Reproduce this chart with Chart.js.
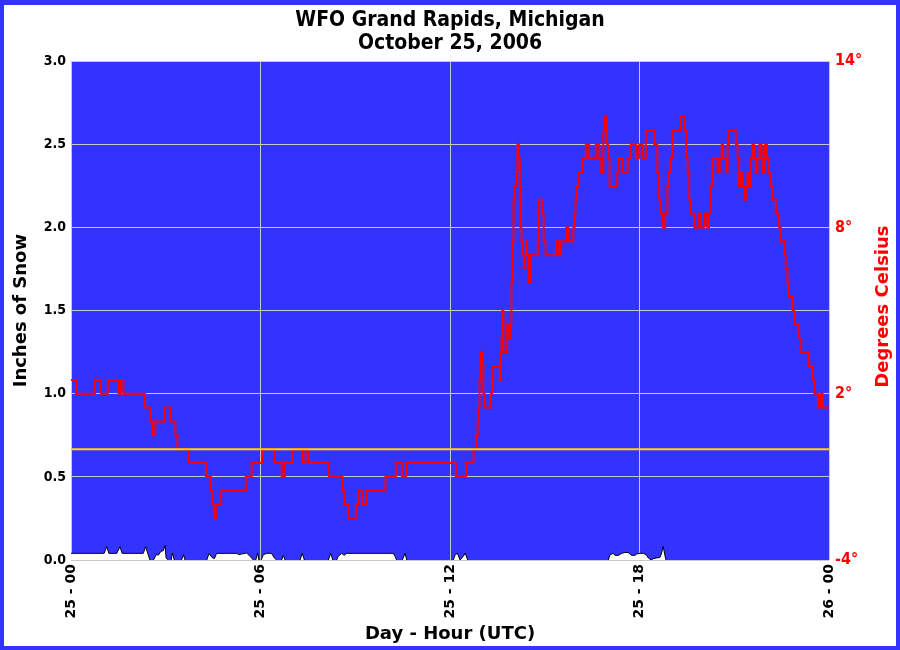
<!DOCTYPE html>
<html>
<head>
<meta charset="utf-8">
<script src="https://cdn.jsdelivr.net/npm/chart.js@4.4.0/dist/chart.umd.min.js"></script>
<style>
  html, body { margin: 0; padding: 0; background: #fff; }
  #frame {
    width: 900px; height: 650px; box-sizing: border-box;
    border: 4px solid #3333ff; border-top-width: 5px;
    background: #fff;
  }
  canvas { display: block; }
</style>
</head>
<body>
<div id="frame"><canvas id="snowChart" width="892" height="641"></canvas></div>
<script>
// x tick labels (day - hour UTC), one every 6 hours
const xTickLabels = ['25 - 00', '25 - 06', '25 - 12', '25 - 18', '26 - 00'];

// temperature readings: [hours since 25/00Z, degrees C]
const tempObs = [
  [0.00,2.5],[0.13,2.5],[0.19,2.0],[0.70,2.0],[0.81,2.5],[0.92,2.5],[0.97,2.0],[1.36,2.5],[1.46,2.5],[1.55,2.0],
  [1.61,2.5],[1.71,2.0],[2.28,2.0],[2.41,1.5],[2.50,1.5],[2.56,1.0],[2.63,0.5],[2.71,1.0],[2.92,1.0],[3.01,1.5],
  [3.13,1.5],[3.19,1.0],[3.26,1.0],[3.35,0.5],[3.39,0.0],[3.70,0.0],[3.77,-0.5],[4.24,-0.5],[4.30,-1.0],[4.40,-1.0],
  [4.46,-1.5],[4.50,-2.0],[4.56,-2.5],[4.61,-2.0],[4.72,-2.0],[4.79,-1.5],[5.51,-1.5],[5.56,-1.0],[5.67,-1.0],[5.77,-0.5],
  [5.98,-0.5],[6.11,0.0],[6.40,0.0],[6.46,-0.5],[6.62,-0.5],[6.72,-1.0],[6.83,-0.5],[6.99,-0.5],[7.04,0.0],[7.30,0.0],
  [7.39,-0.5],[7.46,0.0],[7.57,-0.5],[8.14,-0.5],[8.20,-1.0],[8.57,-1.0],[8.62,-1.5],[8.68,-2.0],[8.74,-2.0],[8.83,-2.5],
  [8.99,-2.5],[9.05,-2.0],[9.13,-1.5],[9.18,-1.5],[9.24,-2.0],[9.31,-2.0],[9.38,-1.5],[9.94,-1.5],[9.97,-1.0],[10.26,-1.0],
  [10.31,-0.5],[10.45,-0.5],[10.50,-1.0],[10.58,-1.0],[10.65,-0.5],[12.16,-0.5],[12.21,-1.0],[12.48,-1.0],[12.53,-0.5],[12.70,-0.5],
  [12.79,0.0],[12.85,0.5],[12.90,1.0],[12.92,1.5],[12.95,2.5],[13.00,3.5],[13.03,3.0],[13.08,2.0],[13.11,1.5],[13.27,1.5],
  [13.32,2.0],[13.35,2.5],[13.38,3.0],[13.55,3.0],[13.61,2.5],[13.62,3.5],[13.64,4.0],[13.67,5.0],[13.71,3.5],[13.77,3.5],
  [13.85,4.5],[13.90,4.0],[13.93,4.5],[13.96,6.0],[13.99,7.5],[14.03,9.0],[14.07,9.5],[14.11,10.0],[14.16,11.0],[14.20,10.5],
  [14.22,9.5],[14.25,8.0],[14.28,7.5],[14.32,7.0],[14.36,6.5],[14.40,7.0],[14.43,7.5],[14.46,7.0],[14.51,6.0],[14.56,7.0],
  [14.76,7.0],[14.80,7.5],[14.83,9.0],[14.88,9.0],[14.94,8.5],[14.99,7.5],[15.06,7.0],[15.33,7.0],[15.38,7.5],[15.43,7.5],
  [15.48,7.0],[15.56,7.5],[15.64,7.5],[15.71,8.0],[15.80,7.5],[15.88,7.5],[15.93,8.0],[15.96,8.5],[15.99,9.0],[16.03,9.5],
  [16.12,10.0],[16.17,10.0],[16.22,10.5],[16.27,10.5],[16.33,11.0],[16.38,11.0],[16.43,10.5],[16.59,10.5],[16.64,11.0],[16.70,11.0],
  [16.75,10.5],[16.83,10.0],[16.88,11.5],[16.93,12.0],[16.96,11.5],[16.99,11.0],[17.03,10.5],[17.07,9.5],[17.28,9.5],[17.31,10.0],
  [17.33,10.5],[17.44,10.5],[17.49,10.0],[17.60,10.0],[17.65,10.5],[17.70,10.5],[17.75,11.0],[17.86,11.0],[17.91,10.5],[17.96,10.5],
  [18.02,11.0],[18.08,11.0],[18.12,10.5],[18.17,10.5],[18.23,11.5],[18.44,11.5],[18.49,11.0],[18.54,11.0],[18.59,10.0],[18.65,9.0],
  [18.70,8.5],[18.77,8.0],[18.86,8.5],[18.91,9.5],[18.96,10.0],[19.02,10.5],[19.07,11.5],[19.26,11.5],[19.31,12.0],[19.42,12.0],
  [19.46,11.5],[19.50,10.5],[19.55,10.0],[19.60,9.0],[19.65,8.5],[19.70,8.5],[19.76,8.0],[19.86,8.0],[19.92,8.5],[19.97,8.0],
  [20.02,8.0],[20.07,8.5],[20.12,8.5],[20.17,8.0],[20.22,8.5],[20.28,9.5],[20.33,10.5],[20.44,10.5],[20.51,10.0],[20.57,10.5],
  [20.63,11.0],[20.67,10.5],[20.73,10.5],[20.77,10.0],[20.81,11.0],[20.86,11.5],[21.02,11.5],[21.08,11.0],[21.13,10.5],[21.18,9.5],
  [21.24,10.0],[21.29,9.5],[21.34,9.0],[21.39,9.5],[21.44,10.0],[21.50,9.5],[21.55,10.5],[21.60,11.0],[21.65,10.5],[21.71,10.0],
  [21.76,10.5],[21.84,11.0],[21.89,10.5],[21.94,10.0],[22.01,11.0],[22.06,10.5],[22.13,10.0],[22.19,9.5],[22.24,9.0],[22.29,9.0],
  [22.34,8.5],[22.39,8.5],[22.45,8.0],[22.50,7.5],[22.55,7.5],[22.60,7.0],[22.66,6.5],[22.71,6.0],[22.76,5.5],[22.82,5.5],
  [22.87,5.0],[22.92,4.5],[23.03,4.5],[23.08,4.0],[23.16,3.5],[23.34,3.5],[23.40,3.0],[23.45,3.0],[23.50,2.5],[23.56,2.0],
  [23.61,2.0],[23.69,1.5],[23.77,2.0],[23.82,1.5],[24.00,1.5]
];

// snow readings: [hours, inches]
const snowObs = [
  [0.00,0.04],[1.05,0.04],[1.13,0.08],[1.20,0.04],[1.45,0.04],[1.55,0.08],[1.62,0.04],[2.29,0.04],[2.36,0.08],[2.43,0.04],
  [2.50,0],[2.61,0],[2.71,0.036],[2.76,0.028],[2.85,0.052],[2.92,0.056],[2.98,0.088],[3.01,0.012],[3.08,0],[3.17,0],
  [3.21,0.042],[3.27,0],[3.50,0],[3.56,0.032],[3.61,0],[4.30,0],[4.37,0.04],[4.46,0.016],[4.54,0.008],[4.61,0.04],
  [5.25,0.04],[5.32,0.032],[5.40,0.036],[5.51,0.04],[5.56,0.042],[5.64,0.028],[5.72,0.012],[5.77,0],[5.85,0],[5.91,0.042],
  [5.95,0],[6.02,0],[6.09,0.032],[6.20,0.04],[6.35,0.04],[6.44,0.012],[6.51,0],[6.67,0],[6.72,0.028],[6.78,0],
  [7.25,0],[7.32,0.04],[7.39,0],[8.15,0],[8.22,0.04],[8.29,0],[8.41,0],[8.46,0.022],[8.57,0.04],[8.65,0.028],
  [8.73,0.04],[10.20,0.04],[10.26,0.022],[10.31,0],[10.49,0],[10.58,0.04],[10.63,0],[12.10,0],[12.16,0.028],[12.23,0.042],
  [12.32,0],[12.42,0.022],[12.48,0.042],[12.56,0],[17.01,0],[17.07,0.032],[17.17,0.04],[17.22,0.028],[17.33,0.028],[17.44,0.04],
  [17.54,0.046],[17.65,0.044],[17.75,0.028],[17.86,0.028],[17.91,0.036],[18.02,0.04],[18.12,0.04],[18.21,0.032],[18.28,0.012],[18.37,0],
  [18.44,0.008],[18.54,0.012],[18.65,0.016],[18.70,0.042],[18.75,0.082],[18.81,0.022],[18.84,0],[24.00,0]
];

// freezing line, degrees C
const freezeHours = [0, 24];
const freezeC = [0, 0];

const toXY = arr => arr.map(p => ({ x: p[0], y: p[1] }));

// paint the plot area blue
const plotBackground = {
  id: 'plotBackground',
  beforeDraw(chart) {
    const { ctx, chartArea: a } = chart;
    ctx.save();
    ctx.fillStyle = '#3333ff';
    ctx.fillRect(a.left, a.top, a.width, a.height);
    ctx.restore();
  }
};

// right axis title, reading bottom to top like the left one
const rightTitle = {
  id: 'rightTitle',
  afterDraw(chart) {
    const { ctx, chartArea: a } = chart;
    ctx.save();
    ctx.translate(chart.width - 13, (a.top + a.bottom) / 2 - 4);
    ctx.rotate(-Math.PI / 2);
    ctx.fillStyle = '#ff0000';
    ctx.font = 'bold 18px "DejaVu Sans"';
    ctx.textAlign = 'center';
    ctx.textBaseline = 'middle';
    ctx.fillText('Degrees Celsius', 0, 0);
    ctx.restore();
  }
};

const ctx = document.getElementById('snowChart').getContext('2d');

new Chart(ctx, {
  type: 'line',
  data: {
    datasets: [
      {
        label: 'Freezing',
        data: freezeHours.map((h, i) => ({ x: h, y: freezeC[i] })),
        yAxisID: 'yTemp',
        borderColor: '#ffd700',
        borderWidth: 2,
        pointRadius: 0,
        order: 0
      },
      {
        label: 'Temperature',
        data: toXY(tempObs),
        yAxisID: 'yTemp',
        borderColor: '#ff0000',
        borderWidth: 2,
        pointRadius: 0,
        stepped: 'middle',
        order: 1
      },
      {
        label: 'Snow',
        data: toXY(snowObs),
        yAxisID: 'ySnow',
        borderColor: '#000000',
        borderWidth: 1,
        backgroundColor: '#ffffff',
        fill: 'origin',
        pointRadius: 0,
        segment: {
          // no outline where the snow sits at zero
          borderColor: c => (c.p0.parsed.y === 0 && c.p1.parsed.y === 0) ? 'rgba(0,0,0,0)' : '#000000'
        },
        order: 2
      }
    ]
  },
  options: {
    responsive: false,
    animation: false,
    devicePixelRatio: 1,
    layout: { padding: 0 },
    plugins: {
      legend: { display: false },
      tooltip: { enabled: false },
      title: {
        display: true,
        text: ['WFO Grand Rapids, Michigan', 'October 25, 2006'],
        color: '#000',
        font: { family: 'DejaVu Sans Condensed', size: 21, weight: 'bold', lineHeight: 1.1 },
        padding: { top: 4, bottom: 6 }
      }
    },
    scales: {
      x: {
        type: 'linear',
        min: 0,
        max: 24,
        ticks: {
          stepSize: 6,
          autoSkip: false,
          minRotation: 90,
          maxRotation: 90,
          padding: 4,
          color: '#000',
          font: { family: 'DejaVu Sans', size: 14, weight: 'bold' },
          callback: v => xTickLabels[v / 6]
        },
        grid: { color: '#c8c8c8', drawTicks: false },
        border: { display: false },
        title: {
          display: true,
          text: 'Day - Hour (UTC)',
          color: '#000',
          font: { family: 'DejaVu Sans', size: 18, weight: 'bold' },
          padding: { top: 0, bottom: 1 }
        },
        afterFit: s => { s.height = 86; }
      },
      ySnow: {
        position: 'left',
        min: 0,
        max: 3,
        ticks: {
          stepSize: 0.5,
          padding: 5,
          color: '#000',
          font: { family: 'DejaVu Sans Condensed', size: 14, weight: 'bold' },
          callback: v => v.toFixed(1)
        },
        grid: { color: '#c8c8c8', drawTicks: false },
        border: { display: false },
        title: {
          display: true,
          text: 'Inches of Snow',
          color: '#000',
          font: { family: 'DejaVu Sans', size: 18, weight: 'bold' },
          padding: { top: 7, bottom: 0 }
        },
        afterFit: s => { s.width = 67; }
      },
      yTemp: {
        position: 'right',
        min: -4,
        max: 14,
        ticks: {
          stepSize: 6,
          padding: 6,
          color: '#ff0000',
          font: { family: 'DejaVu Sans Condensed', size: 16, weight: 'bold' },
          callback: v => v + '°'
        },
        grid: { display: false, drawTicks: false },
        border: { display: false },
        afterFit: s => { s.width = 67; }
      }
    }
  },
  plugins: [plotBackground, rightTitle]
});
</script>
</body>
</html>
